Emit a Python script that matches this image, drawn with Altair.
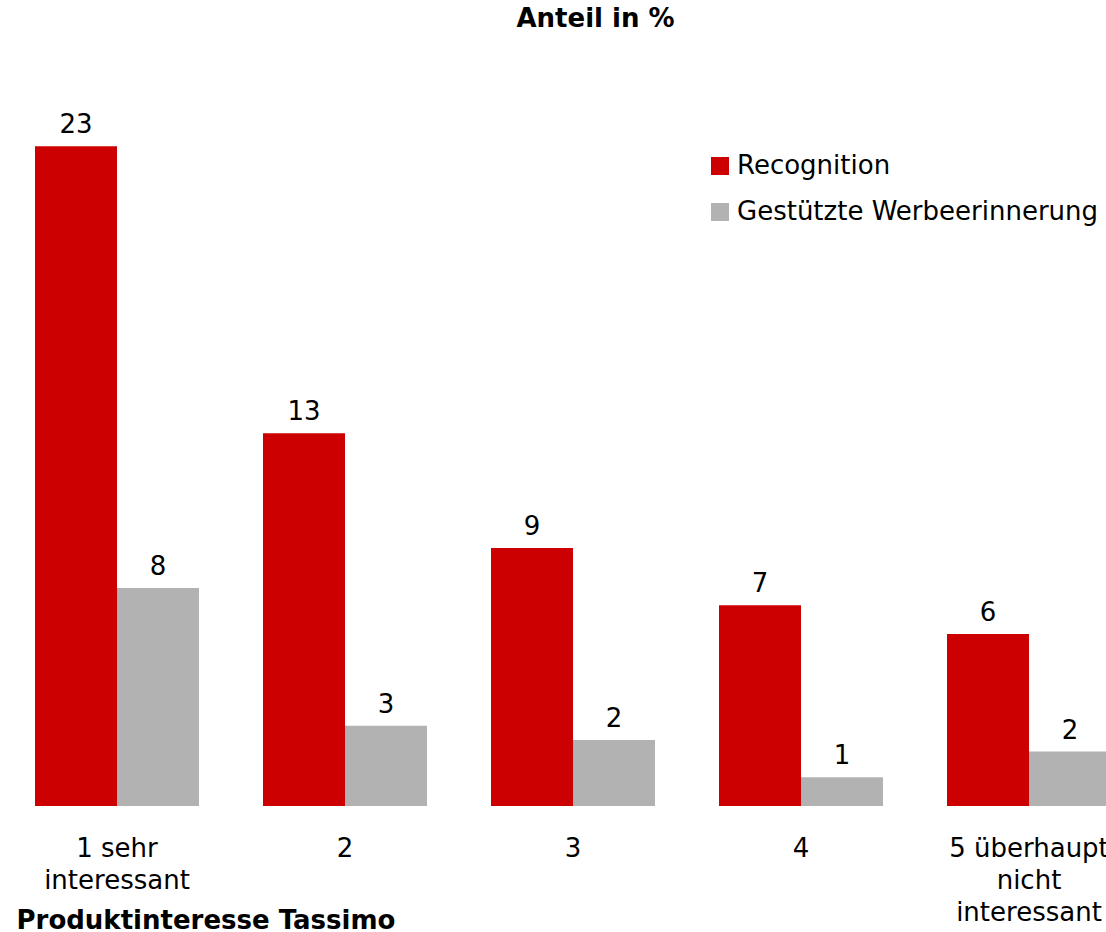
import altair as alt
import pandas as pd

# Produktinteresse Tassimo – Anteil in %
categories = ["1 sehr\ninteressant", "2", "3", "4", "5 überhaupt\nnicht\ninteressant"]
series = ["Recognition", "Gestützte Werbeerinnerung"]
recognition = [23.0, 13.0, 9.0, 7.0, 6.0]
werbeerinnerung = [7.6, 2.8, 2.3, 1.0, 1.9]
colors = ["#CC0000", "#B2B2B2"]

rows = []
for cat, r, w in zip(categories, recognition, werbeerinnerung):
    rows.append({"kategorie": cat, "reihe": series[0], "anteil": r})
    rows.append({"kategorie": cat, "reihe": series[1], "anteil": w})
df = pd.DataFrame(rows)

FONT = "DejaVu Sans"
FS = 26

x = alt.X(
    "kategorie:N",
    sort=categories,
    scale=alt.Scale(paddingInner=64 / 228, paddingOuter=0, range=[0, 1076]),
    axis=alt.Axis(
        title="Produktinteresse Tassimo",
        titleFontSize=FS,
        titleFontWeight="bold",
        titleColor="black",
        titleAnchor="start",
        titleAlign="left",
        titleBaseline="alphabetic",
        titleX=-19,
        titleY=122,
        labelExpr="split(datum.label, '\\n')",
        labelFontSize=FS,
        labelColor="black",
        labelLineHeight=32,
        labelPadding=29,
        labelAngle=0,
        labelLimit=500,
        labelOverlap=False,
        domain=False,
        ticks=False,
        tickSize=0,
        grid=False,
    ),
)
x_off = alt.XOffset("reihe:N", sort=series, scale=alt.Scale(paddingInner=0, paddingOuter=0))
y = alt.Y("anteil:Q", scale=alt.Scale(domain=[0, 25], nice=False), axis=None)

bars = alt.Chart().mark_bar().encode(
    x=x,
    xOffset=x_off,
    y=y,
    color=alt.Color(
        "reihe:N",
        sort=series,
        scale=alt.Scale(domain=series, range=colors),
        legend=alt.Legend(
            orient="none",
            legendX=672,
            legendY=64,
            title=None,
            symbolType="square",
            symbolSize=324,
            symbolStrokeWidth=0,
            labelFontSize=FS,
            labelColor="black",
            labelOffset=4,
            rowPadding=20,
            padding=0,
            labelLimit=500,
        ),
    ),
)

labels = alt.Chart().mark_text(
    dy=-13, baseline="alphabetic", fontSize=FS, color="black"
).encode(
    x=alt.X("kategorie:N", sort=categories),
    xOffset=alt.XOffset("reihe:N", sort=series),
    y=alt.Y("anteil:Q"),
    text=alt.Text("anteil:Q", format=".0f"),
)

chart = (
    alt.layer(bars, labels, data=df)
    .properties(
        width=1071,
        height=717,
        title=alt.TitleParams(
            "Anteil in %",
            fontSize=FS,
            fontWeight="bold",
            color="black",
            anchor="middle",
            frame="group",
            dx=25,
            offset=57,
        ),
        padding={"left": 35, "top": 89, "right": 0, "bottom": 126},
        autosize=alt.AutoSizeParams(type="none"),
    )
    .configure(font=FONT, background="white")
    .configure_view(stroke=None)
)

chart.save("out.html", embed_options={"renderer": "svg", "actions": False})
